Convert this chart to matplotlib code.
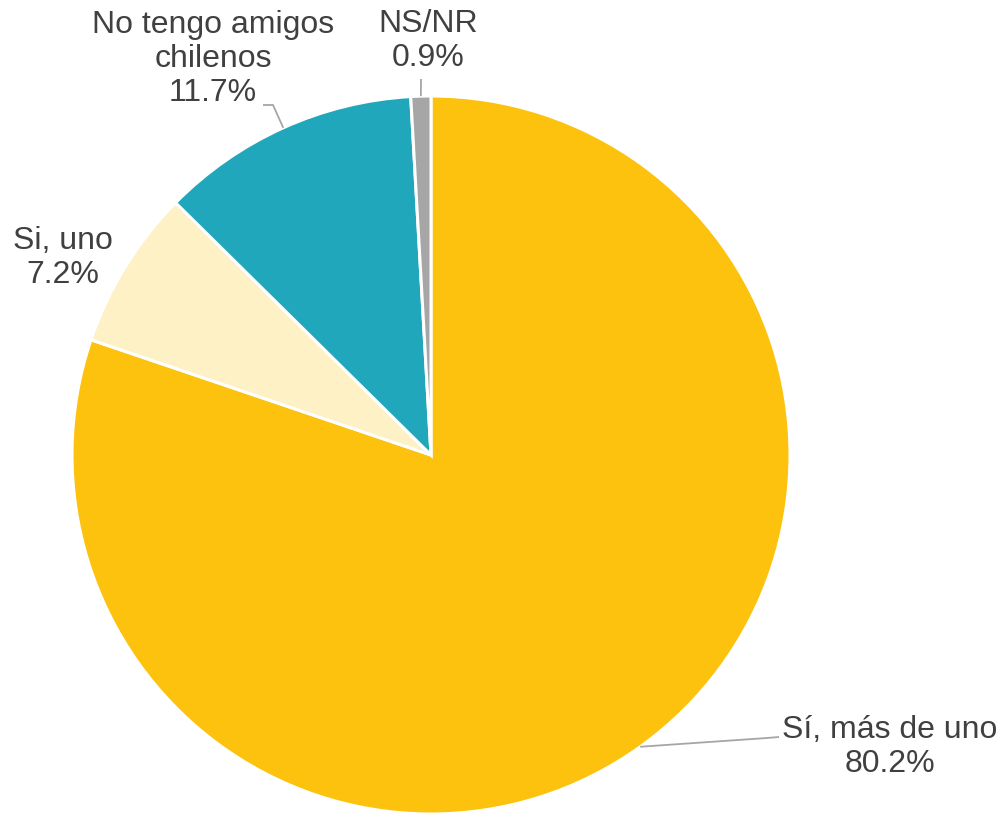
import numpy as np
import matplotlib
matplotlib.use("Agg")
import matplotlib.pyplot as plt

# datos
categorias = ["Sí, más de uno", "Si, uno", "No tengo amigos\nchilenos", "NS/NR"]
porcentajes = [80.2, 7.2, 11.7, 0.9]
colores = ["#FDC20D", "#FEF1C6", "#21A7BB", "#A6A6A6"]

W, H = 1002, 815
cx, cy, r = 431, 455, 359  # pixels

plt.rcParams["font.family"] = ["Liberation Sans", "DejaVu Sans"]

fig = plt.figure(figsize=(W / 100, H / 100), dpi=100)
ax = fig.add_axes([(cx - r) / W, (H - cy - r) / H, 2 * r / W, 2 * r / H])

wedges, _ = ax.pie(porcentajes, colors=colores, startangle=90, counterclock=False,
                   radius=1, wedgeprops=dict(edgecolor="white", linewidth=2.2))
ax.set_xlim(-1, 1)
ax.set_ylim(-1, 1)
ax.set_aspect("equal")
ax.axis("off")


def px(x, y):
    # pixel -> data
    return (x - cx) / r, (cy - y) / r


# label centre (pixels) and leader elbow/end (pixels) per slice
etiquetas_pos = [(890, 747), (63, 258), (213, 59), (428, 41)]
guias = [[(767, 738), (779, 737)], None, [(273, 105), (263, 105)], [(421, 79)]]

for w, cat, p, pos, g in zip(wedges, categorias, porcentajes, etiquetas_pos, guias):
    tx, ty = px(*pos)
    ax.text(tx, ty, f"{cat}\n{p:.1f}%", ha="center", va="center", fontsize=23,
            color="#404040", linespacing=1.16)
    if g:
        ang = np.deg2rad((w.theta1 + w.theta2) / 2)
        xs = [np.cos(ang)] + [px(*q)[0] for q in g]
        ys = [np.sin(ang)] + [px(*q)[1] for q in g]
        ax.plot(xs, ys, color="#A6A6A6", lw=1.3, solid_capstyle="butt", clip_on=False)

fig.savefig("out.png", dpi=100)
